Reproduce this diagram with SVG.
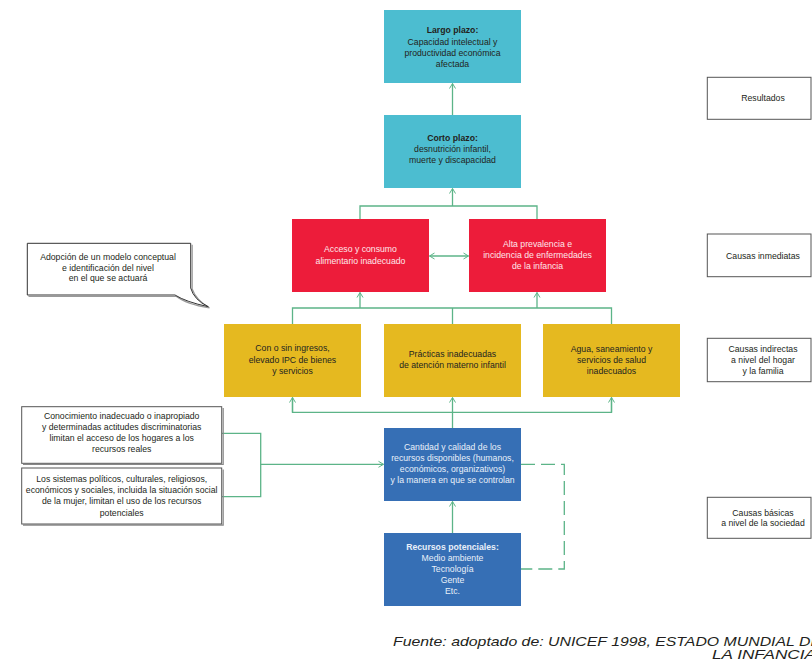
<svg xmlns="http://www.w3.org/2000/svg" width="812" height="667" viewBox="0 0 812 667">
<defs>
<style>
text{font-family:"Liberation Sans",Arial,sans-serif;font-size:8.7px;text-anchor:middle}
.b{font-weight:bold}
.dk{fill:#231f20}
.wt{fill:#fde6ea}
.bw{fill:#e9eff9}
.teal{fill:#4cbdd0}
.red{fill:#ed1c3a}
.yel{fill:#e5b920}
.blu{fill:#366fb5}
.lbl{fill:#fff;stroke:#555;stroke-width:1}
.sh{fill:none;stroke:#888;stroke-width:1.2}
.c{fill:none;stroke:#5cb488;stroke-width:1.3}
.d{fill:none;stroke:#5cb488;stroke-width:1.3;stroke-dasharray:14 6}
.foot{font-style:italic;font-size:13.5px;fill:#231f20;text-anchor:start}
</style>
<marker id="ah" markerWidth="8" markerHeight="8" refX="6" refY="4" orient="auto-start-reverse" markerUnits="userSpaceOnUse">
<path d="M1,1 L6,4 L1,7" fill="none" stroke="#5cb488" stroke-width="1"/>
</marker>
</defs>

<g id="connectors">
<line class="c" x1="452.5" y1="115" x2="452.5" y2="83.5" marker-end="url(#ah)"/>
<polyline class="c" points="360,219 360,206 537,206 537,219"/>
<line class="c" x1="452.5" y1="206" x2="452.5" y2="188.5" marker-end="url(#ah)"/>
<line class="c" x1="429.5" y1="256" x2="468.5" y2="256" marker-start="url(#ah)" marker-end="url(#ah)"/>
<polyline class="c" points="292.5,324 292.5,308 611.5,308 611.5,324"/>
<line class="c" x1="452.5" y1="308" x2="452.5" y2="324"/>
<line class="c" x1="360" y1="308" x2="360" y2="292.5" marker-end="url(#ah)"/>
<line class="c" x1="537" y1="308" x2="537" y2="292.5" marker-end="url(#ah)"/>
<polyline class="c" points="292.5,397.5 292.5,412.3 611.5,412.3 611.5,397.5"/>
<line class="c" x1="292.5" y1="412.3" x2="292.5" y2="397.5" marker-end="url(#ah)"/>
<line class="c" x1="611.5" y1="412.3" x2="611.5" y2="397.5" marker-end="url(#ah)"/>
<line class="c" x1="452.5" y1="428" x2="452.5" y2="397.5" marker-end="url(#ah)"/>
<polyline class="c" points="222,433.3 260.7,433.3 260.7,496.7 222,496.7"/>
<line class="c" x1="260.7" y1="464.3" x2="383.5" y2="464.3" marker-end="url(#ah)"/>
<line class="c" x1="452.5" y1="533" x2="452.5" y2="501.5" marker-end="url(#ah)"/>
<polyline class="d" points="521,464.3 564.3,464.3 564.3,569 521,569"/>
</g>

<g id="largo">
<rect class="teal" x="384" y="10" width="137" height="73"/>
<text class="dk b" x="452.5" y="33.3">Largo plazo:</text>
<text class="dk" x="452.5" y="44.8">Capacidad intelectual y</text>
<text class="dk" x="452.5" y="55.6">productividad económica</text>
<text class="dk" x="452.5" y="66.5">afectada</text>
</g>

<g id="corto">
<rect class="teal" x="384" y="115" width="137" height="73"/>
<text class="dk b" x="452.5" y="140.8">Corto plazo:</text>
<text class="dk" x="452.5" y="152">desnutrición infantil,</text>
<text class="dk" x="452.5" y="163.1">muerte y discapacidad</text>
</g>

<g id="acceso">
<rect class="red" x="292" y="219" width="137" height="73"/>
<text class="wt" x="360.5" y="252">Acceso y consumo</text>
<text class="wt" x="360.5" y="263.7">alimentario inadecuado</text>
</g>

<g id="alta">
<rect class="red" x="469" y="219" width="137" height="73"/>
<text class="wt" x="537.5" y="247">Alta prevalencia e</text>
<text class="wt" x="537.5" y="258">incidencia de enfermedades</text>
<text class="wt" x="537.5" y="269.3">de la infancia</text>
</g>

<g id="ingresos">
<rect class="yel" x="224" y="324" width="137" height="73"/>
<text class="dk" x="292.5" y="351.3">Con o sin ingresos,</text>
<text class="dk" x="292.5" y="363">elevado IPC de bienes</text>
<text class="dk" x="292.5" y="374">y servicios</text>
</g>

<g id="practicas">
<rect class="yel" x="384" y="324" width="137" height="73"/>
<text class="dk" x="452.5" y="357">Prácticas inadecuadas</text>
<text class="dk" x="452.5" y="368">de atención materno infantil</text>
</g>

<g id="agua">
<rect class="yel" x="543" y="324" width="137" height="73"/>
<text class="dk" x="611.5" y="351.7">Agua, saneamiento y</text>
<text class="dk" x="611.5" y="363">servicios de salud</text>
<text class="dk" x="611.5" y="373.7">inadecuados</text>
</g>

<g id="cantidad">
<rect class="blu" x="384" y="428" width="137" height="73"/>
<text class="bw" x="452.5" y="449.7">Cantidad y calidad de los</text>
<text class="bw" x="452.5" y="461">recursos disponibles (humanos,</text>
<text class="bw" x="452.5" y="472.3">económicos, organizativos)</text>
<text class="bw" x="452.5" y="483">y la manera en que se controlan</text>
</g>

<g id="potenciales">
<rect class="blu" x="384" y="533" width="137" height="73"/>
<text class="bw b" x="452.5" y="549.7">Recursos potenciales:</text>
<text class="bw" x="452.5" y="560.7">Medio ambiente</text>
<text class="bw" x="452.5" y="571.7">Tecnología</text>
<text class="bw" x="452.5" y="583">Gente</text>
<text class="bw" x="452.5" y="594">Etc.</text>
</g>

<g id="conocimiento">
<path class="sh" d="M23,464.5 H223.2 V408"/>
<rect class="lbl" x="21.7" y="406.7" width="200" height="56.6"/>
<text class="dk" x="121.7" y="419">Conocimiento inadecuado o inapropiado</text>
<text class="dk" x="121.7" y="430.3">y determinadas actitudes discriminatorias</text>
<text class="dk" x="121.7" y="441">limitan el acceso de los hogares a los</text>
<text class="dk" x="121.7" y="451.7">recursos reales</text>
</g>

<g id="sistemas">
<path class="sh" d="M23,525.2 H223.2 V469.5"/>
<rect class="lbl" x="21.7" y="468" width="200" height="56"/>
<text class="dk" x="121.7" y="482.3">Los sistemas políticos, culturales, religiosos,</text>
<text class="dk" x="121.7" y="493">económicos y sociales, incluida la situación social</text>
<text class="dk" x="121.7" y="503.7">de la mujer, limitan el uso de los recursos</text>
<text class="dk" x="121.7" y="515.5">potenciales</text>
</g>

<g id="callout">
<path d="M28.5,296.5 H176.5 Q186,304 209.5,308 Q196,300 192.2,289 V244.8" fill="none" stroke="#999" stroke-width="1.2"/>
<path d="M27.3,243.3 H190.7 V288 Q194,300 208.3,306.7 Q186,302 175,295 H27.3 Z" fill="#fff" stroke="#333" stroke-width="1"/>
<text class="dk" x="108" y="260.3">Adopción de un modelo conceptual</text>
<text class="dk" x="108" y="270.7">e identificación del nivel</text>
<text class="dk" x="108" y="281.3">en el que se actuará</text>
</g>

<g id="resultados">
<rect class="lbl" x="707.3" y="77.3" width="103.7" height="42"/>
<text class="dk" x="763" y="101">Resultados</text>
</g>

<g id="inmediatas">
<rect class="lbl" x="707.3" y="234" width="103.7" height="42.7"/>
<text class="dk" x="763" y="258.7">Causas inmediatas</text>
</g>

<g id="indirectas">
<rect class="lbl" x="707.3" y="338.3" width="103.7" height="43.4"/>
<text class="dk" x="763" y="352">Causas indirectas</text>
<text class="dk" x="763" y="362.7">a nivel del hogar</text>
<text class="dk" x="763" y="373.7">y la familia</text>
</g>

<g id="basicas">
<rect class="lbl" x="707.3" y="497.3" width="103.7" height="41"/>
<text class="dk" x="763" y="515.7">Causas básicas</text>
<text class="dk" x="763" y="526.3">a nivel de la sociedad</text>
</g>

<g id="fuente">
<text class="foot" x="393" y="646" textLength="428" lengthAdjust="spacingAndGlyphs">Fuente: adoptado de: UNICEF 1998, ESTADO MUNDIAL DE</text>
<text class="foot" x="712" y="658.5" textLength="104" lengthAdjust="spacingAndGlyphs">LA INFANCIA</text>
</g>
</svg>
